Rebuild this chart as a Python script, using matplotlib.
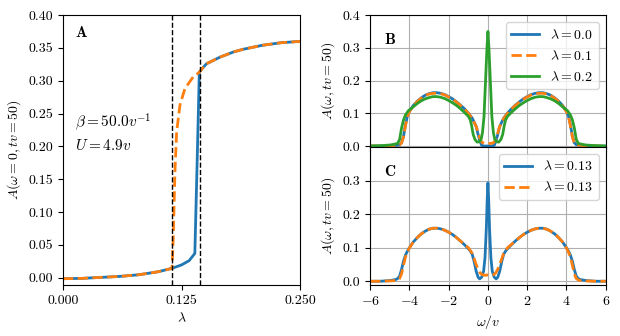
import numpy as np
import matplotlib
matplotlib.use("Agg")
import matplotlib.pyplot as plt

plt.rcParams['font.family'] = 'serif'
plt.rcParams['font.serif'] = ['cmr10']
plt.rcParams['mathtext.fontset'] = 'cm'
plt.rcParams['axes.formatter.use_mathtext'] = True
plt.rcParams['font.size'] = 10

# Pannello A: A(w=0) in funzione di lambda
lam_up = [0.0, 0.02, 0.04, 0.06, 0.08, 0.10, 0.115, 0.125, 0.133, 0.139,
          0.1416, 0.1437, 0.1475, 0.1514, 0.1655, 0.18, 0.19, 0.20, 0.21,
          0.22, 0.23, 0.24, 0.25]
A_up = [-0.0015, -0.001, 0.0005, 0.002, 0.0045, 0.009, 0.0143, 0.0195, 0.026,
        0.037, 0.187, 0.313, 0.32, 0.326, 0.336, 0.344, 0.348, 0.351, 0.354,
        0.356, 0.358, 0.359, 0.360]
lam_down = [0.0, 0.02, 0.04, 0.06, 0.08, 0.10, 0.115, 0.1162, 0.118, 0.1198,
            0.1233, 0.1285, 0.1373, 0.1437, 0.1475, 0.1514, 0.1655, 0.18, 0.19,
            0.20, 0.21, 0.22, 0.23, 0.24, 0.25]
A_down = [-0.0015, -0.001, 0.0005, 0.002, 0.0045, 0.009, 0.0143, 0.06, 0.161,
          0.222, 0.263, 0.288, 0.306, 0.313, 0.32, 0.326, 0.336, 0.344, 0.348,
          0.351, 0.354, 0.356, 0.358, 0.359, 0.360]
lam_c = [0.115, 0.1445]

# Pannello B: spettri per lambda = 0.0, 0.1, 0.2
w_b = [-6, -5.5, -5, -4.7, -4.5, -4.4, -4.3, -4.2, -4.1, -4.0,
       -3.8, -3.6, -3.4, -3.2, -3.0, -2.8, -2.6, -2.4, -2.2, -2.0,
       -1.8, -1.6, -1.4, -1.2, -1.0, -0.8, -0.6, -0.5, -0.4, -0.32, -0.2,
       0.0,
       0.2, 0.32, 0.4, 0.5, 0.6, 0.8, 1.0, 1.2, 1.4, 1.6, 1.8,
       2.0, 2.2, 2.4, 2.6, 2.8, 3.0, 3.2, 3.4, 3.6, 3.8,
       4.0, 4.1, 4.2, 4.3, 4.4, 4.5, 4.7, 5, 5.5, 6]
A_b00 = [0.0, 0.0, 0.001, 0.002, 0.004, 0.01, 0.03, 0.065, 0.092, 0.106,
         0.124, 0.137, 0.147, 0.155, 0.160, 0.163, 0.163, 0.161, 0.157, 0.151,
         0.144, 0.135, 0.125, 0.114, 0.101, 0.085, 0.06, 0.035, 0.014, 0.002, 0.0,
         0.0,
         0.0, 0.002, 0.014, 0.035, 0.06, 0.085, 0.101, 0.114, 0.125, 0.135, 0.144,
         0.151, 0.157, 0.161, 0.163, 0.163, 0.160, 0.155, 0.147, 0.137, 0.124,
         0.106, 0.092, 0.065, 0.03, 0.01, 0.004, 0.002, 0.001, 0.0, 0.0]
A_b01 = [0.0, 0.0, 0.001, 0.002, 0.004, 0.009, 0.028, 0.062, 0.09, 0.105,
         0.123, 0.136, 0.146, 0.154, 0.159, 0.161, 0.161, 0.16, 0.156, 0.15,
         0.143, 0.134, 0.124, 0.113, 0.1, 0.084, 0.06, 0.04, 0.022, 0.012, 0.008,
         0.008,
         0.008, 0.012, 0.022, 0.04, 0.06, 0.084, 0.1, 0.113, 0.124, 0.134, 0.143,
         0.15, 0.156, 0.16, 0.161, 0.161, 0.159, 0.154, 0.146, 0.136, 0.123,
         0.105, 0.09, 0.062, 0.028, 0.009, 0.004, 0.002, 0.001, 0.0, 0.0]
w_g = [-6, -5.5, -5, -4.8, -4.6, -4.5, -4.4, -4.3, -4.2, -4.05,
       -3.8, -3.6, -3.4, -3.2, -3.0, -2.8, -2.6, -2.4, -2.2, -2.0,
       -1.8, -1.6, -1.4, -1.2, -1.0, -0.9, -0.83, -0.75, -0.66, -0.55,
       -0.45, -0.35, -0.28, -0.2, -0.1, -0.05,
       0.0,
       0.05, 0.1, 0.2, 0.28, 0.35, 0.45,
       0.55, 0.66, 0.75, 0.83, 0.9, 1.0, 1.2, 1.4, 1.6, 1.8,
       2.0, 2.2, 2.4, 2.6, 2.8, 3.0, 3.2, 3.4, 3.6, 3.8,
       4.05, 4.2, 4.3, 4.4, 4.5, 4.6, 4.8, 5, 5.5, 6]
A_b02 = [0.0, 0.001, 0.003, 0.005, 0.008, 0.02, 0.055, 0.08, 0.095, 0.108,
         0.12, 0.13, 0.138, 0.144, 0.148, 0.151, 0.151, 0.149, 0.145, 0.139,
         0.132, 0.124, 0.114, 0.103, 0.091, 0.08, 0.062, 0.035, 0.02, 0.012,
         0.013, 0.02, 0.04, 0.09, 0.23, 0.30,
         0.35,
         0.30, 0.23, 0.09, 0.04, 0.02, 0.013,
         0.012, 0.02, 0.035, 0.062, 0.08, 0.091, 0.103, 0.114, 0.124, 0.132,
         0.139, 0.145, 0.149, 0.151, 0.151, 0.148, 0.144, 0.138, 0.13, 0.12,
         0.108, 0.095, 0.08, 0.055, 0.02, 0.008, 0.005, 0.003, 0.001, 0.0]

# Pannello C: due soluzioni per lambda = 0.13
w_c1 = [-6, -5.5, -5, -4.7, -4.6, -4.5, -4.4, -4.3, -4.2, -4.1, -4.0,
        -3.8, -3.6, -3.4, -3.2, -3.0, -2.8, -2.6, -2.4, -2.2, -2.0,
        -1.8, -1.6, -1.4, -1.2, -1.0, -0.9, -0.8, -0.7, -0.6, -0.5,
        -0.42, -0.32, -0.22, -0.15, -0.08, -0.04,
        0.0,
        0.04, 0.08, 0.15, 0.22, 0.32, 0.42,
        0.5, 0.6, 0.7, 0.8, 0.9, 1.0, 1.2, 1.4, 1.6, 1.8,
        2.0, 2.2, 2.4, 2.6, 2.8, 3.0, 3.2, 3.4, 3.6, 3.8,
        4.0, 4.1, 4.2, 4.3, 4.4, 4.5, 4.6, 4.7, 5, 5.5, 6]
A_c1 = [0.0, 0.0, 0.002, 0.005, 0.008, 0.015, 0.035, 0.06, 0.078, 0.09, 0.1,
        0.117, 0.13, 0.141, 0.149, 0.155, 0.158, 0.158, 0.156, 0.152, 0.146,
        0.139, 0.13, 0.12, 0.109, 0.097, 0.09, 0.08, 0.058, 0.03, 0.012,
        0.007, 0.012, 0.03, 0.07, 0.16, 0.24,
        0.293,
        0.24, 0.16, 0.07, 0.03, 0.012, 0.007,
        0.012, 0.03, 0.058, 0.08, 0.09, 0.097, 0.109, 0.12, 0.13, 0.139,
        0.146, 0.152, 0.156, 0.158, 0.158, 0.155, 0.149, 0.141, 0.13, 0.117,
        0.1, 0.09, 0.078, 0.06, 0.035, 0.015, 0.008, 0.005, 0.002, 0.0, 0.0]
w_c2 = [-6, -5.5, -5, -4.7, -4.6, -4.5, -4.4, -4.3, -4.2, -4.1, -4.0,
        -3.8, -3.6, -3.4, -3.2, -3.0, -2.8, -2.6, -2.4, -2.2, -2.0,
        -1.8, -1.6, -1.4, -1.2, -1.0, -0.8, -0.6, -0.5, -0.4, -0.3, -0.2, -0.1,
        0.0,
        0.1, 0.2, 0.3, 0.4, 0.5, 0.6, 0.8, 1.0, 1.2, 1.4, 1.6, 1.8,
        2.0, 2.2, 2.4, 2.6, 2.8, 3.0, 3.2, 3.4, 3.6, 3.8,
        4.0, 4.1, 4.2, 4.3, 4.4, 4.5, 4.6, 4.7, 5, 5.5, 6]
A_c2 = [0.0, 0.0, 0.001, 0.002, 0.004, 0.008, 0.022, 0.048, 0.072, 0.087, 0.099,
        0.117, 0.13, 0.141, 0.149, 0.155, 0.158, 0.158, 0.156, 0.152, 0.146,
        0.139, 0.13, 0.12, 0.11, 0.1, 0.083, 0.05, 0.036, 0.025, 0.02, 0.018, 0.018,
        0.019,
        0.018, 0.018, 0.02, 0.025, 0.036, 0.05, 0.083, 0.1, 0.11, 0.12, 0.13, 0.139,
        0.146, 0.152, 0.156, 0.158, 0.158, 0.155, 0.149, 0.141, 0.13, 0.117,
        0.099, 0.087, 0.072, 0.048, 0.022, 0.008, 0.004, 0.002, 0.001, 0.0, 0.0]

blu = '#1f77b4'
aran = '#ff7f0e'
verde = '#2ca02c'

fig = plt.figure(figsize=(6.2, 3.36), dpi=100)
axA = fig.add_axes([0.1016, 0.152, 0.3825, 0.803])
axB = fig.add_axes([0.597, 0.5625, 0.38, 0.3925])
axC = fig.add_axes([0.597, 0.152, 0.38, 0.4105], sharex=axB)

# --- A ---
axA.plot(lam_up, A_up, color=blu, lw=2)
axA.plot(lam_down, A_down, color=aran, lw=2, ls='--')
for l in lam_c:
    axA.axvline(l, color='k', ls='--', lw=1)
axA.set_xlim(0, 0.25)
axA.set_ylim(-0.011, 0.40)
axA.set_xticks([0, 0.125, 0.25])
axA.set_xticklabels(['0.000', '0.125', '0.250'])
axA.set_yticks(np.arange(0, 0.401, 0.05))
axA.set_yticklabels(['%.2f' % v for v in np.arange(0, 0.401, 0.05)])
axA.set_xlabel(r'$\lambda$')
axA.set_ylabel(r'$A(\omega=0,tv=50)$')
axA.text(0.05, 0.92, r'$\mathbf{A}$', transform=axA.transAxes, fontsize=11)
axA.text(0.05, 0.585, r'$\beta = 50.0v^{-1}$', transform=axA.transAxes, fontsize=11)
axA.text(0.05, 0.50, r'$U = 4.9v$', transform=axA.transAxes, fontsize=11)

# --- B ---
axB.plot(w_b, A_b00, color=blu, lw=2, label=r'$\lambda=0.0$')
axB.plot(w_b, A_b01, color=aran, lw=2, ls='--', label=r'$\lambda=0.1$')
axB.plot(w_g, A_b02, color=verde, lw=2, label=r'$\lambda=0.2$')
axB.set_ylim(-0.003, 0.4)
axB.set_yticks([0, 0.1, 0.2, 0.3, 0.4])
axB.set_yticklabels(['0.0', '0.1', '0.2', '0.3', '0.4'])
axB.set_ylabel(r'$A(\omega,tv=50)$')
axB.grid(True)
axB.tick_params(labelbottom=False)
axB.legend(loc='upper right')
axB.text(0.06, 0.78, r'$\mathbf{B}$', transform=axB.transAxes, fontsize=11)

# --- C ---
axC.plot(w_c1, A_c1, color=blu, lw=2, label=r'$\lambda=0.13$')
axC.plot(w_c2, A_c2, color=aran, lw=2, ls='--', label=r'$\lambda=0.13$')
axC.set_xlim(-6, 6)
axC.set_xticks([-6, -4, -2, 0, 2, 4, 6])
axC.set_ylim(-0.011, 0.40)
axC.set_yticks([0, 0.1, 0.2, 0.3])
axC.set_yticklabels(['0.0', '0.1', '0.2', '0.3'])
axC.set_ylabel(r'$A(\omega,tv=50)$')
axC.set_xlabel(r'$\omega/v$')
axC.grid(True)
axC.legend(loc='upper right')
axC.text(0.06, 0.79, r'$\mathbf{C}$', transform=axC.transAxes, fontsize=11)

fig.savefig('out.png', dpi=100)
